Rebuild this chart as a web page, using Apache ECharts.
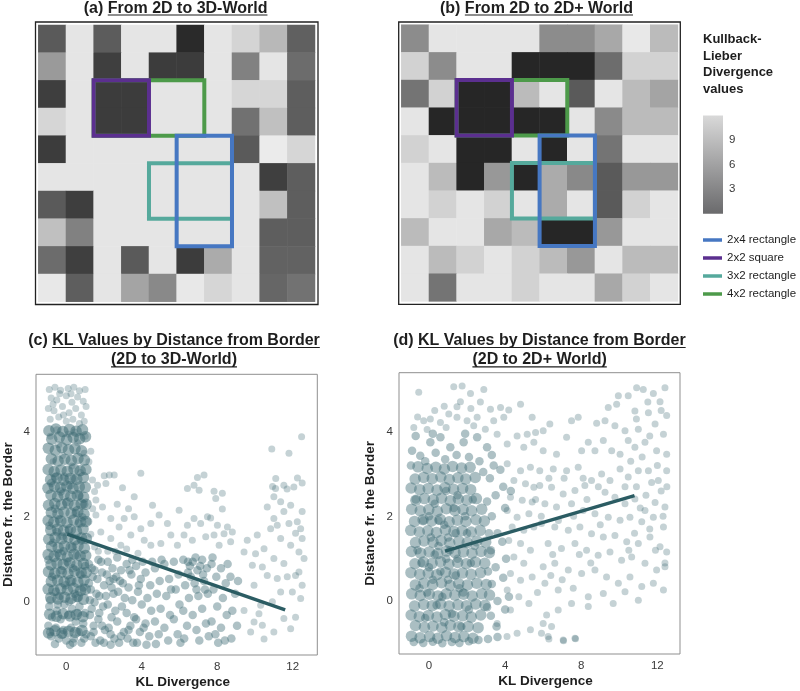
<!DOCTYPE html>
<html><head><meta charset="utf-8">
<script src="https://cdn.jsdelivr.net/npm/echarts@6/dist/echarts.min.js"></script>
<style>html,body{margin:0;padding:0;background:#fff}#c{width:800px;height:691px}</style>
</head><body><div id="c"></div><script>
// ---------------- DATA ----------------
// KL divergence per grid cell, rows top->bottom, cols left->right
const heatA = [
 [3.3,12,3.4,12,12,0.25,12,10.95,9.2,3.65],
 [7.3,12,1.6,12,1.4,1.4,12,5.7,12,4.4],
 [1.5,12,1.4,1.4,12,12,12,11.1,11.1,3.5],
 [11.1,12,1.4,1.4,12,12,12,4.7,9.7,3.5],
 [1.4,12,12,12,12,12,12,3.3,12.4,11.1],
 [12,12,12,12,12,12,12,12,1.6,3.5],
 [3.3,1.5,12,12,12,12,12,12,9.7,3.5],
 [9.7,5.7,12,12,12,12,12,12,3.5,3.5],
 [4.4,1.6,12,3.3,12,1.4,8.4,12,3.8,3.8],
 [12.2,3.5,12,7.9,6.2,12.2,11.1,12,4.0,4.8]
];
const heatB = [
 [6.4,12,12,12,12,6.4,6.4,8.2,12.2,9.4],
 [10.8,6.4,12,12,0,0,0,4.5,10.8,10.8],
 [4.9,10.8,0,0,9.4,12,3.3,12,9.4,7.9],
 [12,0,0,0,0,0,12,6.3,9.4,9.4],
 [10.8,12,0,0,12,0,12,4.9,12,12],
 [12,9.4,0,7.2,0,8.4,6.2,3.3,7.2,7.2],
 [12,10.8,12,10.8,12,8.4,12,3.3,10.8,12],
 [9.4,12,12,8.2,9.4,0,0,7.2,12,12],
 [12,9.4,10.8,12,10.8,9.4,7.2,12,9.4,9.4],
 [12,4.9,12,12,10.8,12,12,8.2,10.8,12]
];
// outlined regions: [firstCol, firstRow, lastCol, lastRow]
const rect2x4 = [5,4,6,7];
const rect2x2 = [2,2,3,3];
const rect3x2 = [4,5,6,6];
const rect4x2 = [2,2,5,3];
const rectNames = ['2x4 rectangle','2x2 square','3x2 rectangle','4x2 rectangle'];
const kdRange = [0,12];
const kdTicks = [3,6,9];
const xTicks = [0,4,8,12];
const yTicks = [0,2,4];

// panel (c): KL divergence (x) vs distance from border (y)
const cCore = [
[-0.92,4.03],[-0.55,4.07],[-0.18,4.01],[0.17,4.06],[0.52,4.02],[0.86,4.05],
[-0.77,3.83],[-0.36,3.88],[0.02,3.82],[0.37,3.87],[0.71,3.84],[1.02,3.89],
[-0.95,3.62],[-0.58,3.57],[-0.23,3.63],[0.12,3.58],[0.46,3.61],[0.81,3.56],
[-0.79,3.37],[-0.43,3.32],[-0.08,3.36],[0.27,3.33],[0.62,3.38],[0.96,3.34],
[-0.96,3.12],[-0.64,3.07],[-0.28,3.11],[0.06,3.08],[0.41,3.13],[0.74,3.09],[1.04,3.12],
[-0.83,2.88],[-0.49,2.92],[-0.13,2.87],[0.21,2.91],[0.56,2.89],[0.91,2.93],
[-0.97,2.68],[-0.63,2.72],[-0.31,2.69],[0.03,2.73],[0.36,2.67],[0.69,2.71],[1.01,2.7],
[-0.81,2.52],[-0.46,2.48],[-0.11,2.53],[0.24,2.49],[0.59,2.51],[0.92,2.47],
[-0.94,2.28],[-0.61,2.32],[-0.26,2.29],[0.09,2.33],[0.44,2.27],[0.79,2.31],[1.05,2.3],
[-0.79,2.11],[-0.44,2.08],[-0.12,2.12],[0.26,2.09],[0.61,2.13],[0.94,2.07],
[-0.96,1.92],[-0.66,1.88],[-0.29,1.91],[0.04,1.87],[0.39,1.93],[0.76,1.89],[1.04,1.9],
[-0.82,1.69],[-0.47,1.72],[-0.14,1.68],[0.22,1.71],[0.54,1.67],[0.89,1.72],
[-0.93,1.48],[-0.59,1.52],[-0.24,1.49],[0.11,1.53],[0.46,1.47],[0.81,1.51],[1.06,1.5],
[-0.78,1.31],[-0.43,1.28],[-0.09,1.32],[0.26,1.29],[0.62,1.33],[0.96,1.27],
[-0.96,1.12],[-0.64,1.08],[-0.31,1.11],[0.06,1.07],[0.41,1.13],[0.74,1.09],[1.03,1.1],
[-0.81,0.88],[-0.49,0.92],[-0.16,0.89],[0.19,0.93],[0.56,0.87],[0.91,0.91],
[-0.94,0.72],[-0.61,0.68],[-0.26,0.71],[0.09,0.67],[0.44,0.73],[0.79,0.69],[1.05,0.7],
[-0.79,0.49],[-0.46,0.52],[-0.11,0.48],[0.24,0.51],[0.61,0.47],[0.94,0.52],
[-0.96,0.31],[-0.66,0.28],[-0.29,0.32],[0.06,0.29],[0.39,0.33],[0.76,0.27],[1.01,0.3],
[-0.82,0.11],[-0.44,0.08],[-0.09,0.12],[0.26,0.09],[0.59,0.13],[0.91,0.07],
[-0.88,-0.28],[-0.52,-0.33],[-0.17,-0.27],[0.19,-0.32],[0.53,-0.29],[0.88,-0.34],
[-0.94,-0.72],[-0.6,-0.67],[-0.23,-0.73],[0.12,-0.68],[0.47,-0.71],[0.83,-0.66]
];
const cMid = [
[-0.8,2.8],[-0.3,2.6],[0.2,2.75],[0.7,2.5],[-0.6,2.2],[0.0,2.35],[0.5,2.1],[0.95,2.3],[-0.9,1.8],[-0.4,1.95],
[0.15,1.7],[0.65,1.85],[-0.7,1.4],[-0.2,1.55],[0.3,1.3],[0.8,1.45],[-0.95,1.0],[-0.45,1.15],[0.05,0.95],[0.55,1.1],
[1.0,0.85],[-0.75,0.6],[-0.25,0.75],[0.25,0.5],[0.75,0.65],[-0.55,0.25],[-0.05,0.4],[0.45,0.2],[0.9,0.35],[-0.85,0.05],
[-0.35,0.15],[0.15,0.02],[0.6,0.1],[-0.1,2.95],[0.4,2.9],[-0.6,2.95],[0.85,2.0],[-0.15,1.2],[0.35,0.8],[-0.5,1.65],
[-0.9,-0.1],[-0.5,-0.2],[-0.1,-0.05],[0.3,-0.15],[0.7,-0.1],[1.0,-0.25],[-0.75,-0.35],[-0.3,-0.4],[0.1,-0.3],[0.5,-0.45],
[0.9,-0.5],[-0.95,-0.55],[-0.55,-0.6],[-0.15,-0.65],[0.25,-0.6],[0.65,-0.7],[1.05,-0.75],[-0.8,-0.8],[-0.4,-0.85],[0.0,-0.9],
[0.4,-0.85],[0.8,-0.95],[-0.6,-0.98],[0.2,-1.0],[-0.2,-0.75],[0.6,-0.25],[-0.45,-0.05],[0.95,-0.85],[-0.85,-0.7],[0.35,-0.95],
[1.2,0.9],[1.4,0.6],[1.3,0.3],[1.5,0.0],[1.25,-0.3],[1.45,-0.55],[1.3,-0.8],[1.55,-0.95],[1.2,0.45],[1.5,0.75],[1.35,-0.15],
[1.7,1.0],[1.9,0.7],[2.0,0.4],[1.75,0.15],[1.95,-0.1],[1.7,-0.4],[2.05,-0.65],[1.8,-0.9],[1.65,0.55],[2.0,-0.95],
[2.2,0.95],[2.45,0.8],[2.3,0.5],[2.5,0.2],[2.2,-0.05],[2.4,-0.35],[2.25,-0.6],[2.55,-0.85],[2.35,-1.0],[2.5,0.55],
[2.7,1.05],[2.9,0.75],[3.0,0.45],[2.75,0.25],[2.95,-0.1],[2.7,-0.45],[3.05,-0.7],[2.8,-0.95],[2.65,0.6],
[3.2,0.9],[3.45,0.65],[3.3,0.35],[3.5,0.05],[3.2,-0.25],[3.4,-0.55],[3.25,-0.85],[3.55,-0.95],[3.5,1.0],
[3.7,0.85],[3.95,0.55],[3.8,0.25],[4.0,-0.05],[3.7,-0.4],[3.9,-0.7],[3.75,-0.95],[4.05,0.95],
[4.2,0.7],[4.45,0.4],[4.3,0.1],[4.5,-0.2],[4.2,-0.5],[4.4,-0.8],[4.55,0.95],[4.25,-1.0],
[4.7,0.8],[4.95,0.5],[4.8,0.2],[5.0,-0.15],[4.7,-0.45],[4.9,-0.75],[4.75,-0.98],[5.05,1.0],
[5.2,0.9],[5.45,0.55],[5.3,0.15],[5.5,-0.3],[5.2,-0.6],[5.4,-0.9],[5.55,0.3],
[5.7,0.95],[5.95,0.65],[5.8,0.3],[6.0,-0.05],[5.7,-0.4],[5.9,-0.75],[6.05,-0.95],
[6.2,1.0],[6.45,0.7],[6.3,0.4],[6.5,0.1],[6.2,-0.2],[6.4,-0.55],[6.25,-0.85],[6.55,0.85],
[6.7,0.95],[6.95,0.75],[6.8,0.45],[7.0,0.15],[6.7,-0.3],[6.9,-0.65],[7.05,-0.9],[6.85,1.05],
[7.2,1.0],[7.45,0.8],[7.3,0.5],[7.5,0.2],[7.2,-0.15],[7.4,-0.5],[7.55,-0.8],[7.25,0.65],
[7.7,0.9],[7.95,0.6],[7.8,0.3],[8.0,-0.1],[7.7,-0.45],[7.9,-0.75],[8.05,-0.95],[7.75,1.05],
[8.2,0.8],[8.45,0.45],[8.3,0.1],[8.5,-0.3],[8.2,-0.6],[8.4,-0.9],[8.55,0.9],
[8.7,0.6],[8.95,0.2],[8.8,-0.2],[9.05,-0.55],[8.75,-0.85],[9.1,0.5],
[1.35,0.8],[1.6,0.2],[1.45,-0.7],[1.85,0.95],[2.1,0.15],[1.9,-0.55],[2.4,0.35],[2.6,-0.2],[2.35,-0.75],[2.85,0.5],
[3.1,0.1],[2.9,-0.8],[3.35,0.75],[3.6,-0.35],[3.3,-0.65],[3.85,0.4],[4.1,-0.6],[1.25,0.05],[1.75,-0.25],[2.15,0.65],
[6.6,0.6],[7.1,0.85],[6.9,0.3],[7.35,0.3],[6.45,0.95]
];
const cSparse = [
[-0.9,5.0],[-0.6,5.05],[-0.3,4.98],[0.1,5.02],[0.4,5.05],[0.7,4.97],[1.0,5.0],[-0.8,4.8],[-0.5,4.75],[0.0,4.85],
[0.3,4.7],[0.6,4.82],[0.9,4.72],[-0.95,4.55],[-0.65,4.5],[-0.2,4.6],[0.15,4.45],[0.5,4.55],[0.8,4.4],[1.05,4.6],
[-0.85,4.3],[-0.4,4.35],[0.0,4.25],[0.35,4.3],[0.7,4.2],[-0.7,4.65],[0.25,4.9],[-0.15,4.4],[0.95,4.25],[-0.35,4.9],
[-0.85,3.9],[-0.4,3.7],[0.1,3.95],[0.6,3.75],[0.95,3.5],[-0.7,3.3],[-0.2,3.45],[0.3,3.2],[0.75,3.05],[-0.5,4.05],
[0.45,4.0],[1.0,3.9],[1.3,3.55],[1.2,3.3],
[3.95,3.03],[2.54,2.99],[2.01,2.97],[2.28,2.99],[1.39,2.87],[1.66,2.75],[2.1,2.79],[2.98,2.69],[3.6,2.48],[1.57,2.4],
[4.57,2.28],[1.92,2.24],[4.92,2.05],[1.57,2.05],[2.36,1.97],[3.07,1.97],[3.6,2.01],[5.36,1.85],[4.48,1.85],[2.8,1.77],
[3.95,1.73],[5.54,1.58],[3.42,1.58],[4.48,1.34],[5.01,1.38],[1.83,1.65],[2.36,1.5],[2.89,1.34],[4.13,1.46],
[1.3,1.6],[1.5,1.3],[1.7,1.2],[2.6,1.2],[3.2,1.25],[3.8,1.15],[1.4,2.2],[2.2,1.2],[1.2,1.9],[1.5,2.6],[3.3,2.2],[2.7,2.3],
[7.3,2.99],[6.95,2.93],[6.77,2.75],[6.42,2.67],[7.04,2.63],[7.83,2.61],[8.27,2.56],[7.92,2.44],[5.98,2.16],[8.27,2.19],
[7.48,2.01],[7.65,1.98],[6.77,1.97],[6.42,1.81],[7.12,1.85],[8.01,1.81],[8.54,1.77],[6.24,1.58],[5.89,1.34],[6.68,1.46],
[7.39,1.54],[7.83,1.58],[8.36,1.61],[8.8,1.65],[8.1,1.34],[8.71,1.42],
[12.47,3.89],[10.89,3.6],[11.8,3.5],[11.1,2.91],[12.25,2.92],[12.5,2.8],[10.93,2.72],[11.7,2.66],
[9.59,1.46],[9.42,1.18],[10.03,1.14],[10.12,1.58],[9.86,0.87],[10.39,0.83],[10.48,1.26],[10.65,2.24],[11.0,2.48],[11.36,2.36],
[11.53,2.13],[11.89,2.28],[11.0,1.97],[11.18,1.81],[11.8,1.85],[12.24,1.89],[12.42,1.73],[12.15,1.62],[12.5,1.5],[10.83,1.73],
[11.36,1.5],[11.89,1.34],[12.33,1.18],[12.6,1.03],[11.0,1.03],[11.53,0.91],[10.65,0.63],[11.18,0.56],[11.71,0.6],[12.15,0.63],
[12.5,0.4],[11.98,0.24],[12.42,0.09],[11.36,0.24],[10.92,0.01],[10.3,-0.07],[9.95,0.4],[9.42,-0.19],[9.95,-0.46],[10.39,-0.54],
[11.0,-0.7],[11.53,-0.38],[11.89,-0.62],[12.15,-0.35],[10.48,-0.86],[9.77,-0.7],[10.21,-0.27],[12.33,0.71],[12.5,2.13],[12.06,2.71],
[11.53,2.75],[11.09,2.67]
];
const cLine = [[0.05,1.6],[11.6,-0.18]];

// panel (d)
const dCore = [
[-0.92,-0.83],[-0.47,-0.87],[0.03,-0.84],[0.46,-0.88],[0.92,-0.82],[1.37,-0.86],[1.83,-0.84],[2.31,-0.88],
[-0.71,-0.58],[-0.24,-0.62],[0.21,-0.59],[0.67,-0.63],[1.12,-0.57],[1.57,-0.61],[2.06,-0.6],[2.58,-0.63],
[-0.94,-0.33],[-0.51,-0.37],[-0.03,-0.34],[0.42,-0.38],[0.86,-0.32],[1.31,-0.36],[1.77,-0.35],[2.22,-0.38],[2.72,-0.33],
[-0.76,-0.12],[-0.28,-0.08],[0.17,-0.11],[0.62,-0.07],[1.06,-0.12],[1.52,-0.09],[1.97,-0.11],[2.46,-0.07],[2.94,-0.1],
[-0.91,0.17],[-0.46,0.13],[0.02,0.16],[0.47,0.12],[0.91,0.17],[1.36,0.14],[1.82,0.16],[2.27,0.12],[2.77,0.17],[3.18,0.14],
[-0.72,0.38],[-0.27,0.42],[0.19,0.39],[0.66,0.43],[1.11,0.37],[1.56,0.41],[2.02,0.38],[2.51,0.42],[3.01,0.39],
[-0.95,0.67],[-0.49,0.63],[-0.04,0.66],[0.41,0.62],[0.87,0.68],[1.32,0.64],[1.76,0.66],[2.21,0.63],[2.71,0.67],
[-0.74,0.88],[-0.29,0.92],[0.16,0.89],[0.61,0.93],[1.04,0.87],[1.51,0.91],[1.96,0.88],[2.44,0.92],[2.93,0.89],
[-0.92,1.17],[-0.44,1.13],[0.01,1.16],[0.46,1.12],[0.92,1.18],[1.37,1.14],[1.81,1.16],[2.26,1.13],[2.74,1.17],[3.17,1.14],
[-0.71,1.38],[-0.26,1.42],[0.21,1.39],[0.64,1.43],[1.09,1.37],[1.57,1.41],[2.01,1.38],[2.52,1.42],[2.98,1.39],
[-0.96,1.67],[-0.51,1.63],[-0.06,1.66],[0.39,1.62],[0.86,1.68],[1.31,1.64],[1.74,1.66],[2.22,1.63],[2.69,1.67],
[-0.76,1.88],[-0.31,1.92],[0.14,1.89],[0.59,1.93],[1.06,1.87],[1.49,1.91],[1.94,1.88],[2.47,1.92],[2.91,1.89],
[-0.91,2.17],[-0.46,2.13],[-0.01,2.16],[0.44,2.12],[0.91,2.18],[1.36,2.14],[1.79,2.16],[2.24,2.13],[2.77,2.17],
[-0.69,2.38],[-0.24,2.42],[0.22,2.39],[0.66,2.43],[1.12,2.37],[1.54,2.41],[1.99,2.38],[2.49,2.42],
[-0.94,2.67],[-0.49,2.63],[-0.04,2.66],[0.42,2.62],[0.84,2.68],[1.29,2.64],[1.77,2.66],[2.19,2.63],
[-0.73,2.88],[-0.28,2.92],[0.17,2.89],[0.62,2.93],[1.07,2.87],[1.52,2.91],[1.93,2.88],[2.43,2.92],
[-0.58,3.17],[-0.09,3.13],[0.36,3.16],[0.81,3.12],[1.24,3.18],[1.71,3.14],[2.16,3.16]
];
const dMid = [
[-0.5,0.3],[0.0,0.8],[0.5,1.3],[1.0,0.5],[1.5,1.0],[2.0,1.6],[-0.3,1.9],[0.3,2.3],[0.8,1.8],[1.3,2.2],
[1.8,0.2],[2.2,0.9],[-0.6,1.2],[0.1,1.5],[0.7,0.1],[1.2,-0.3],[1.7,-0.6],[2.3,2.4],[-0.2,-0.4],[0.4,-0.1],
[0.9,2.6],[1.4,1.6],[1.9,2.0],[-0.7,2.4],[0.2,0.5],[0.6,0.7],[1.1,1.2],[1.6,0.3],[2.1,-0.2],[-0.4,0.9],
[0.3,1.1],[0.9,1.0],[1.4,0.6],[0.0,2.0],[0.5,1.9],[1.0,1.5],[-0.1,0.2],[0.8,-0.5],[1.5,2.5],[2.4,1.3],
[-0.8,-0.97],[-0.3,-0.99],[0.2,-0.96],[0.7,-1.0],[1.2,-0.97],[1.6,-0.99],[2.1,-0.95],[2.6,-0.92],[3.1,-0.9],[3.6,-0.85],
[-0.89,3.55],[-0.46,3.43],[0.07,3.75],[0.6,3.87],[1.12,3.63],[1.82,3.75],[2.53,3.87],[3.05,3.63],[-0.7,3.9],[-0.2,3.3],
[0.35,3.5],[0.85,3.35],[1.45,3.45],[2.1,3.4],[2.65,3.3],[3.3,3.45],[-0.95,3.2],[1.9,3.95],[2.85,3.05],[0.2,3.95],
[3.2,2.9],[3.5,2.5],[3.3,2.0],[3.6,1.6],[3.25,1.2],[3.5,0.8],[3.3,0.4],[3.6,0.0],[3.25,-0.35],[3.55,-0.6],
[3.9,2.7],[4.0,2.2],[3.85,1.4],[4.05,1.0],[3.9,0.55],[4.0,-0.2],[3.75,3.1],[3.4,3.2],[4.3,2.6],[4.2,0.1],
[3.05,2.35],[3.15,1.6],[3.1,0.7],[3.05,-0.15]
];
const dSparse = [
[4.1,-0.84],[4.63,-0.76],[5.33,-0.68],[7.07,-0.94],[7.7,-0.89],[6.3,-0.9],
[4.11,3.24],[4.81,3.08],[5.33,3.16],[4.46,2.85],[5.07,2.77],[5.51,2.69],[4.28,2.45],[4.9,2.38],[5.42,2.34],[4.11,2.14],
[4.63,1.98],[5.25,2.06],[4.37,1.75],[4.98,1.67],[5.51,1.75],[4.19,1.43],[4.81,1.36],[5.33,1.2],[4.46,1.04],[4.98,0.89],
[4.28,0.65],[4.81,0.49],[5.42,0.57],[4.11,0.26],[4.72,0.1],[5.25,-0.06],[4.28,-0.21],[3.58,-0.53],
[-0.54,4.93],[1.3,5.06],[1.74,5.08],[2.18,4.9],[2.88,5.0],[1.65,4.71],[1.47,4.59],[-0.28,4.26],[0.07,4.3],[0.6,4.22],
[1.04,4.42],[1.47,4.34],[2.0,4.26],[2.53,4.34],[3.23,4.53],[3.76,4.57],[4.19,4.51],[4.81,4.65],[5.42,4.34],[3.4,4.26],
[3.93,4.34],[2.35,4.14],[2.96,4.06],[3.58,3.94],[4.63,3.9],[5.16,3.94],[5.6,3.98],[5.51,3.75],[4.98,3.63],[4.11,3.71],
[-0.8,4.1],[-0.1,4.05],[0.9,4.1],[0.3,4.5],[0.8,4.6],[2.2,4.55],[2.7,4.7],[-0.6,4.35],
[10.91,5.04],[11.26,5.0],[12.4,5.04],[9.95,4.85],[10.47,4.85],[11.79,4.9],[12.14,4.71],[9.42,4.57],[9.86,4.65],[10.82,4.49],
[11.53,4.45],[12.49,4.38],[7.84,4.34],[7.49,4.26],[8.81,4.2],[6.35,4.18],[6.0,4.02],[7.23,3.87],[9.25,4.26],[9.77,4.14],
[10.3,4.02],[11.0,4.06],[11.88,4.18],[12.32,3.94],[10.47,3.79],[10.82,3.63],[11.35,3.75],[11.96,3.55],[12.49,3.47],[8.37,3.75],
[8.02,3.55],[8.72,3.55],[9.16,3.79],[9.6,3.55],[10.04,3.47],[6.0,3.55],[6.7,3.47],[5.82,3.08],[6.53,3.12],[7.23,3.08],
[7.84,3.16],[8.54,2.85],[9.07,3.0],[9.51,2.85],[10.04,3.12],[10.47,2.93],[11.0,3.08],[11.53,3.08],[12.05,2.85],[12.49,3.08],
[5.82,2.73],[6.44,2.69],[7.05,2.53],[7.67,2.61],[8.19,2.73],[9.25,2.57],[9.77,2.45],[10.3,2.3],[10.82,2.41],[11.35,2.14],
[11.88,2.33],[12.4,2.22],[6.09,2.3],[6.7,2.22],[7.49,2.3],[8.1,2.14],[8.72,2.06],[9.42,1.98],[10.04,1.91],[10.56,1.98],
[11.18,1.87],[11.79,1.98],[12.32,1.75],[5.91,1.83],[6.61,1.75],[7.32,1.67],[7.93,1.75],[8.54,1.59],[9.16,1.51],[9.77,1.55],
[10.39,1.4],[11.0,1.36],[11.61,1.51],[12.14,1.28],[12.49,1.16],[6.26,1.36],[6.96,1.24],[7.67,1.36],[8.28,1.2],[8.89,1.08],
[9.51,1.16],[10.12,0.96],[10.65,1.04],[11.35,0.89],[11.96,0.73],[12.4,0.81],[6.0,0.81],[6.61,0.89],[7.32,0.73],[8.02,0.65],
[8.72,0.73],[9.33,0.57],[9.95,0.42],[10.56,0.57],[11.18,0.34],[11.79,0.42],[12.32,0.26],[6.09,0.42],[6.79,0.26],[7.58,0.3],
[8.37,0.1],[9.16,0.18],[9.68,-0.06],[10.3,0.22],[11.0,0.02],[8.37,-0.13],[7.49,-0.06],[6.79,-0.21],[6.18,-0.33],[6.44,-0.6],
[5.91,-0.76],[6.26,-0.84],[7.05,-0.92],[7.67,-0.88],[6.0,-0.53],
[10.6,3.3],[11.2,3.4],[11.7,2.8],[12.2,2.6],[10.9,2.7],[11.4,2.5],[12.0,3.2],[10.3,2.7],[11.1,2.2],[11.6,1.7],
[12.3,2.0],[10.8,1.6],[12.5,2.7],[11.9,1.2],[10.5,1.2],[12.2,4.5],[11.5,4.7],[10.9,4.3],[12.4,0.9],[11.6,3.9],
[5.6,2.4],[5.9,2.0],[6.3,2.9],[6.8,1.9],[7.1,2.9],[7.6,2.0],[8.3,2.4],[8.9,2.7],[6.5,1.1],[7.0,0.5],
[8.5,0.9],[9.0,1.8],[5.7,0.2],[6.4,0.6],[7.9,1.1],[8.1,2.9]
];
const dLine = [[0.84,1.18],[10.8,2.49]];

// ---------------- STYLE / LAYOUT ----------------
const FONT = '"Liberation Sans", Arial, Helvetica, sans-serif';
const INK = '#1e1e1e';
const PT = '#3e6b74';
const rectColor = {'2x4 rectangle':'#4677c2','2x2 square':'#5b2f8f','3x2 rectangle':'#55a99c','4x2 rectangle':'#4d9a4a'};
const drawOrder = [['4x2 rectangle',rect4x2],['2x2 square',rect2x2],['3x2 rectangle',rect3x2],['2x4 rectangle',rect2x4]];

const mctx = document.createElement('canvas').getContext('2d');
function tw(str, font){ mctx.font = font; return mctx.measureText(str).width; }
function titleEls(prefix, body, cx, cy) {
  const font = 'bold 16px ' + FONT;
  const w1 = prefix ? tw(prefix, font) : 0, w2 = tw(body, font);
  const x0 = cx - (w1 + w2) / 2;
  const els = [];
  if (prefix) els.push({type:'text', x:x0, y:cy, style:{text:prefix, font:font, fill:INK, align:'left', verticalAlign:'middle'}});
  els.push({type:'text', x:x0 + w1, y:cy, style:{text:body, font:font, fill:INK, align:'left', verticalAlign:'middle'}});
  els.push({type:'line', shape:{x1:x0 + w1, y1:cy + 6.8, x2:x0 + w1 + w2, y2:cy + 6.8}, style:{stroke:INK, lineWidth:1.2}});
  return els;
}

function heatData(m) {
  const out = [];
  for (let r = 0; r < m.length; r++) for (let c = 0; c < m[r].length; c++) out.push([c, r, m[r][c]]);
  return out;
}
const cats = heatA[0].map((_, i) => i);

function rectRender(params, api) {
  const a = api.coord([api.value(0), api.value(1)]);
  const b = api.coord([api.value(2), api.value(3)]);
  const s = api.size([1, 1]);
  const x0 = Math.min(a[0], b[0]) - s[0] / 2, x1 = Math.max(a[0], b[0]) + s[0] / 2;
  const y0 = Math.min(a[1], b[1]) - s[1] / 2, y1 = Math.max(a[1], b[1]) + s[1] / 2;
  return {type:'rect', shape:{x:x0, y:y0, width:x1 - x0, height:y1 - y0},
    style:{fill:'none', stroke:api.visual('color'), lineWidth:4}};
}

const series = [];
series.push({type:'heatmap', xAxisIndex:0, yAxisIndex:0, data:heatData(heatA), silent:true, emphasis:{disabled:true}});
series.push({type:'heatmap', xAxisIndex:1, yAxisIndex:1, data:heatData(heatB), silent:true, emphasis:{disabled:true}});
[0, 1].forEach(g => {
  drawOrder.forEach(([name, r]) => {
    series.push({type:'custom', name:name, xAxisIndex:g, yAxisIndex:g, data:[r], renderItem:rectRender,
      itemStyle:{color:rectColor[name]}, silent:true, z:3});
  });
});
function scatterSet(g, core, mid, sparse, line, coreAlpha) {
  series.push({type:'scatter', xAxisIndex:g, yAxisIndex:g, data:core, symbolSize:11.5, silent:true,
    itemStyle:{color:PT, opacity:coreAlpha}});
  series.push({type:'scatter', xAxisIndex:g, yAxisIndex:g, data:mid, symbolSize:8.5, silent:true,
    itemStyle:{color:PT, opacity:0.42}});
  series.push({type:'scatter', xAxisIndex:g, yAxisIndex:g, data:sparse, symbolSize:7, silent:true,
    itemStyle:{color:PT, opacity:0.3}});
  series.push({type:'line', xAxisIndex:g, yAxisIndex:g, data:line, showSymbol:false, silent:true, z:5,
    lineStyle:{color:'#2b5c63', width:3.5}});
}
scatterSet(2, cCore, cMid, cSparse, cLine, 0.5);
scatterSet(3, dCore, dMid, dSparse, dLine, 0.44);
// colour bar
series.push({type:'custom', xAxisIndex:4, yAxisIndex:4, data:[[0, kdRange[0], 1, kdRange[1]]], silent:true, z:1,
  renderItem:function(params, api){
    const a = api.coord([api.value(0), api.value(1)]), b = api.coord([api.value(2), api.value(3)]);
    return {type:'rect', shape:{x:a[0], y:b[1], width:b[0] - a[0], height:a[1] - b[1]},
      style:{fill:new echarts.graphic.LinearGradient(0, 0, 0, 1, [{offset:0, color:'#d9d9d9'}, {offset:1, color:'#6a6a6c'}])}};
  }});

const hiddenCat = (g) => ({type:'category', gridIndex:g, data:cats, show:false});
const lab = {fontSize:11.5, color:'#3a3a3a', fontFamily:FONT, margin:6};
const nameStyle = {fontSize:13.5, fontWeight:'bold', color:INK, fontFamily:FONT};
function valX(g, min, max) {
  return {type:'value', gridIndex:g, min:min, max:max, axisLine:{show:false}, axisTick:{show:false}, splitLine:{show:false},
    axisLabel:Object.assign({customValues:xTicks}, lab),
    name:'KL Divergence', nameLocation:'middle', nameGap:20, nameTextStyle:Object.assign({padding:[0,0,0,12]}, nameStyle)};
}
function valY(g, min, max, gap) {
  return {type:'value', gridIndex:g, min:min, max:max, axisLine:{show:false}, axisTick:{show:false}, splitLine:{show:false},
    axisLabel:Object.assign({customValues:yTicks}, lab),
    name:'Distance fr. the Border', nameLocation:'middle', nameGap:gap, nameRotate:90, nameTextStyle:nameStyle};
}

const graphic = [].concat(
  titleEls('(a) ', 'From 2D to 3D-World', 175.6, 8.2),
  titleEls('(b) ', 'From 2D to 2D+ World', 536.5, 8.2),
  titleEls('(c) ', 'KL Values by Distance from Border', 174, 340.7),
  titleEls('', '(2D to 3D-World)', 174, 360),
  titleEls('(d) ', 'KL Values by Distance from Border', 539.4, 340.7),
  titleEls('', '(2D to 2D+ World)', 539.6, 360),
  [
    {type:'rect', shape:{x:35.5, y:22, width:282.5, height:282.5}, style:{fill:'none', stroke:'#222', lineWidth:1.3}, z:10},
    {type:'rect', shape:{x:398.7, y:22, width:281.6, height:282.3}, style:{fill:'none', stroke:'#222', lineWidth:1.3}, z:10},
    {type:'text', x:703, y:31, style:{text:'Kullback-\nLieber\nDivergence\nvalues', font:'bold 13px ' + FONT,
      fill:INK, lineHeight:16.7, align:'left', verticalAlign:'top'}}
  ]
);

const option = {
  animation:false,
  backgroundColor:'#fff',
  grid:[
    {left:38.3, top:25, width:276.7, height:276.7},
    {left:401.3, top:24.7, width:276.6, height:276.7},
    {left:35.7, top:374.3, width:281.6, height:280.7, show:true, borderColor:'#8f8f8f', borderWidth:1, backgroundColor:'transparent'},
    {left:399, top:372.7, width:281, height:281.3, show:true, borderColor:'#8f8f8f', borderWidth:1, backgroundColor:'transparent'},
    {left:703, top:115.4, width:20, height:98.4}
  ],
  xAxis:[hiddenCat(0), hiddenCat(1), valX(2, -1.604, 13.302), valX(3, -1.577, 13.19),
    {type:'value', gridIndex:4, min:0, max:1, show:false}],
  yAxis:[Object.assign(hiddenCat(0), {inverse:true}), Object.assign(hiddenCat(1), {inverse:true}),
    valY(2, -1.238, 5.355, 21), valY(3, -1.252, 5.394, 22),
    {type:'value', gridIndex:4, min:kdRange[0], max:kdRange[1], position:'right', z:5,
      axisLine:{show:false}, splitLine:{show:false},
      axisTick:{show:true, inside:true, length:5, customValues:kdTicks, lineStyle:{color:'#ffffff', width:1}},
      axisLabel:Object.assign({customValues:kdTicks}, lab)}],
  visualMap:{show:false, type:'continuous', min:0, max:12.4, dimension:2, seriesIndex:[0, 1],
    inRange:{color:['#262626', '#ebebeb']}},
  legend:{orient:'vertical', left:703, top:234, padding:0, itemGap:6, itemWidth:19, itemHeight:3.5, icon:'rect',
    data:rectNames, selectedMode:false, textStyle:{fontSize:11.5, color:INK, fontFamily:FONT}},
  graphic:graphic,
  series:series
};
const chart = echarts.init(document.getElementById('c'), null, {renderer:'canvas'});
chart.setOption(option);
</script></body></html>
